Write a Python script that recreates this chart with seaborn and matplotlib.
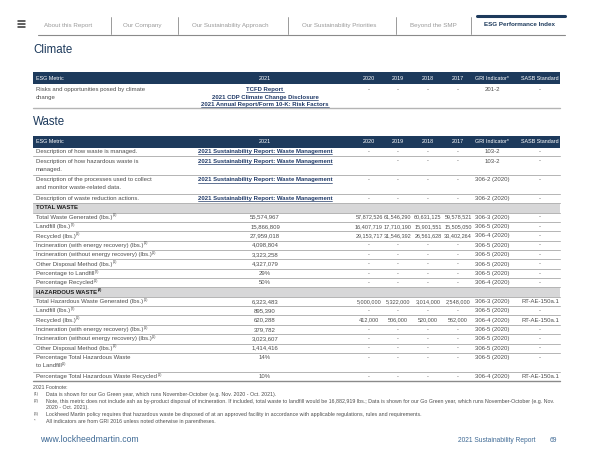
"""
ESG Performance Index page (Climate + Waste) redrawn as a figure.
Values read off the 2021 Sustainability Report, page 69.
"""
import numpy as np
import pandas as pd
import matplotlib
matplotlib.use('Agg')
import matplotlib.pyplot as plt
import seaborn as sns

sns.set_theme(style='white')
plt.rcParams['font.family'] = ['Liberation Sans', 'DejaVu Sans']

NAVY = '#1d3a5c'
LINK = '#203a68'
TXT = '#4d4d4d'
GRID = '#b4b4b4'
BAND = '#d7d7d8'

# ── Data ─────────────────────────────────────────────────────────────────────
nav_tabs = ['About this Report', 'Our Company', 'Our Sustainability Approach',
            'Our Sustainability Priorities', 'Beyond the SMP', 'ESG Performance Index']

columns = ['ESG Metric', '2021', '2020', '2019', '2018', '2017', 'GRI Indicator*', 'SASB Standard']

climate_metric = ['Risks and opportunities posed by climate\nchange']
climate_links = ['TCFD Report', '2021 CDP Climate Change Disclosure',
                 '2021 Annual Report/Form 10-K: Risk Factors']
climate_gri = ['201-2']
climate_sasb = ['-']

waste_metric = [
    'Description of how waste is managed.',
    'Description of how hazardous waste is\nmanaged.',
    'Description of the processes used to collect\nand monitor waste-related data.',
    'Description of waste reduction actions.',
    'TOTAL WASTE',
    'Total Waste Generated (lbs.)',
    'Landfill (lbs.)',
    'Recycled (lbs.)',
    'Incineration (with energy recovery) (lbs.)',
    'Incineration (without energy recovery) (lbs.)',
    'Other Disposal Method (lbs.)',
    'Percentage to Landfill',
    'Percentage Recycled',
    'HAZARDOUS WASTE',
    'Total Hazardous Waste Generated (lbs.)',
    'Landfill (lbs.)',
    'Recycled (lbs.)',
    'Incineration (with energy recovery) (lbs.)',
    'Incineration (without energy recovery) (lbs.)',
    'Other Disposal Method (lbs.)',
    'Percentage Total Hazardous Waste\nto Landfill',
    'Percentage Total Hazardous Waste Recycled',
]
waste_note = ['', '', '', '', '', '(1)', '(2)', '(1)', '(1)', '(1)', '(1)', '(2)', '(1)', '(3)',
              '(1)', '(2)', '(1)', '(1)', '(1)', '(1)', '(1)', '(1)']
waste_kind = ['link'] * 4 + ['section'] + ['data'] * 8 + ['section'] + ['data'] * 8
waste_2021 = ['2021 Sustainability Report: Waste Management'] * 4 + [''] + [
    '55,574,967', '15,866,809', '27,959,018', '4,098,804', '3,323,258', '4,327,079', '29%', '50%', '',
    '6,323,483', '895,390', '620,288', '379,782', '3,023,607', '1,414,416', '14%', '10%']
waste_2020 = ['-', '', '-', '-', '', '57,872,526', '16,407,719', '29,153,717', '-', '-', '-', '-', '-', '',
              '5,000,000', '-', '412,000', '-', '-', '-', '-', '-']
waste_2019 = ['-', '-', '-', '-', '', '61,546,290', '17,710,190', '31,546,392', '-', '-', '-', '-', '-', '',
              '5,322,000', '-', '506,000', '-', '-', '-', '-', '-']
waste_2018 = ['-', '-', '-', '-', '', '60,631,125', '15,901,551', '26,561,628', '-', '-', '-', '-', '-', '',
              '3,014,000', '-', '520,000', '-', '-', '-', '-', '-']
waste_2017 = ['-', '-', '-', '-', '', '59,578,521', '15,505,050', '33,402,264', '-', '-', '-', '-', '-', '',
              '2,548,000', '-', '562,000', '-', '-', '-', '-', '-']
waste_gri = ['103-2', '103-2', '306-2 (2020)', '306-2 (2020)', '',
             '306-3 (2020)', '306-5 (2020)', '306-4 (2020)', '306-5 (2020)', '306-5 (2020)',
             '306-5 (2020)', '306-5 (2020)', '306-4 (2020)', '',
             '306-3 (2020)', '306-5 (2020)', '306-4 (2020)', '306-5 (2020)', '306-5 (2020)',
             '306-5 (2020)', '306-5 (2020)', '306-4 (2020)']
waste_sasb = ['-', '-', '-', '-', '', '-', '-', '-', '-', '-', '-', '-', '-', '',
              'RT-AE-150a.1', '-', 'RT-AE-150a.1', '-', '-', '-', '-', 'RT-AE-150a.1']

footnote_marks = ['(1)', '(2)', '', '(3)', '*']
footnote_text = [
    'Data is shown for our Go Green year, which runs November-October (e.g. Nov. 2020 - Oct. 2021).',
    'Note, this metric does not include ash as by-product disposal of incineration. If included, total waste to '
    'landfill would be 16,882,919 lbs.; Data is shown for our Go Green year, which runs November-October (e.g. Nov.',
    '2020 - Oct. 2021).',
    'Lockheed Martin policy requires that hazardous waste be disposed of at an approved facility in accordance '
    'with applicable regulations, rules and requirements.',
    'All indicators are from GRI 2016 unless noted otherwise in parentheses.',
]

waste = pd.DataFrame({'metric': waste_metric, 'note': waste_note, 'kind': waste_kind,
                      '2021': waste_2021, '2020': waste_2020, '2019': waste_2019,
                      '2018': waste_2018, '2017': waste_2017, 'gri': waste_gri, 'sasb': waste_sasb})

# ── Layout (page pixels) ─────────────────────────────────────────────────────
X0, X1 = 33, 560
col_x = {'metric': 36, '2021': 265, '2020': 369, '2019': 398, '2018': 428,
         '2017': 458, 'gri': 492, 'sasb': 540}
FS = 4.3
FS_YR = 4.0
UNIT = 9.36
LINE = 8.0

fig = plt.figure(figsize=(6.0, 4.63), dpi=100)
ax = fig.add_axes([0, 0, 1, 1])
ax.set_xlim(0, 600)
ax.set_ylim(463, 0)
ax.axis('off')


def bbox(t):
    fig.canvas.draw()
    return t.get_window_extent(fig.canvas.get_renderer())


def underline(t, color):
    bb = bbox(t)
    y = 463 - bb.y0 + 0.3
    ax.plot([bb.x0, bb.x1], [y, y], color=color, lw=0.5)


def label(x, ybase, text, note='', color=TXT, weight='normal'):
    # one text per line (baseline aligned), footnote marker after the last line
    t = None
    for i, line in enumerate(text.split('\n')):
        t = ax.text(x, ybase + i * LINE, line, fontsize=FS, color=color,
                    weight=weight, va='baseline')
    if note:
        bb = bbox(t)
        ax.text(bb.x1 + 0.3, ybase + (text.count('\n')) * LINE - 2.4, note,
                fontsize=2.6, color=color, weight=weight, va='baseline')


# nav bar
tab_centers = [68, 142, 230, 339, 433, 519]
for name, cx in zip(nav_tabs, tab_centers):
    last = name == nav_tabs[-1]
    ax.text(cx, 25, name, ha='center', va='center', fontsize=4.5,
            color=NAVY if last else '#9a9a9a', weight='bold' if last else 'normal')
for sx in [111, 178, 288, 396, 471]:
    ax.plot([sx, sx], [17, 34], color='#8a8a8a', lw=0.6)
ax.plot([38, 565], [34.5, 34.5], color='#8a8a8a', lw=0.8)
ax.plot([477, 565], [15.5, 15.5], color=NAVY, lw=2.2)
for hy in [20.5, 23.5, 26.5]:
    ax.plot([18, 25], [hy, hy], color='#333333', lw=1.1)

# ── Climate ──────────────────────────────────────────────────────────────────
ax.text(X0, 50, 'Climate', fontsize=8.3, color=NAVY, va='center')


def header(y):
    ax.fill_between([X0, X1], y - 6, y + 6, color=NAVY, lw=0)
    keys = ['metric', '2021', '2020', '2019', '2018', '2017', 'gri', 'sasb']
    for key, lab in zip(keys, columns):
        ax.text(col_x[key], y, lab, color='white', fontsize=3.9, va='center',
                ha='left' if key == 'metric' else 'center')


header(78)
label(col_x['metric'], 91, climate_metric[0])
for i, lk in enumerate(climate_links):
    t = ax.text(col_x['2021'], 89.5 + i * 7.5, lk, fontsize=FS, color=LINK, weight='bold',
                ha='center', va='center')
    underline(t, LINK)
for key in ['2020', '2019', '2018', '2017']:
    ax.text(col_x[key], 89.5, '-', fontsize=FS, color=TXT, ha='center', va='center')
ax.text(col_x['gri'], 89.5, climate_gri[0], fontsize=FS, color=TXT, ha='center', va='center')
ax.text(col_x['sasb'], 89.5, climate_sasb[0], fontsize=FS, color=TXT, ha='center', va='center')
ax.plot([X0, X1], [108, 108], color=GRID, lw=1.0)

# ── Waste ────────────────────────────────────────────────────────────────────
ax.text(X0, 122, 'Waste', fontsize=8.3, color=NAVY, va='center')
header(141.5)

y = 147.0
for _, r in waste.iterrows():
    units = 2 if '\n' in r['metric'] else 1
    h = units * UNIT
    yc = y + UNIT / 2
    if r['kind'] == 'section':
        ax.fill_between([X0, X1], y, y + h, color=BAND, lw=0)
        label(col_x['metric'], yc + 1.6, r['metric'], r['note'], '#1e1e1e', 'bold')
    else:
        label(col_x['metric'], yc + 1.6, r['metric'], r['note'])
        if r['kind'] == 'link':
            t = ax.text(col_x['2021'], yc, r['2021'], fontsize=FS, color=LINK,
                        weight='bold', ha='center', va='center')
            underline(t, LINK)
        else:
            ax.text(col_x['2021'], yc, r['2021'], fontsize=FS, color=TXT, ha='center', va='center')
        for key in ['2020', '2019', '2018', '2017']:
            ax.text(col_x[key], yc, r[key], fontsize=FS_YR, color=TXT, ha='center', va='center')
        for key in ['gri', 'sasb']:
            ax.text(col_x[key], yc, r[key], fontsize=FS, color=TXT, ha='center', va='center')
    y += h
    ax.plot([X0, X1], [y, y], color=GRID, lw=0.7)
ax.plot([X0, X1], [y, y], color='#8a8a8a', lw=1.0)

# footnotes
ax.text(X0, y + 6, '2021 Footnote:', fontsize=3.7, color=TXT, va='center')
fy = [y + 13, y + 20, y + 26, y + 33, y + 40]
for mk, tx, yy in zip(footnote_marks, footnote_text, fy):
    ax.text(X0 + 1, yy, mk, fontsize=3.0, color=TXT, va='center')
    ax.text(X0 + 13, yy, tx, fontsize=3.75, color=TXT, va='center')

# page footer
ax.text(40, 440, 'www.lockheedmartin.com', fontsize=6.2, color='#3f6a95', va='center')
ax.text(536, 440, '2021 Sustainability Report', fontsize=4.8, color='#3f6a95', va='center', ha='right')
ax.text(553, 440, '69', fontsize=4.8, color='#3f6a95', va='center', ha='center')

fig.savefig('out.png', dpi=100, facecolor='white')
plt.close(fig)
